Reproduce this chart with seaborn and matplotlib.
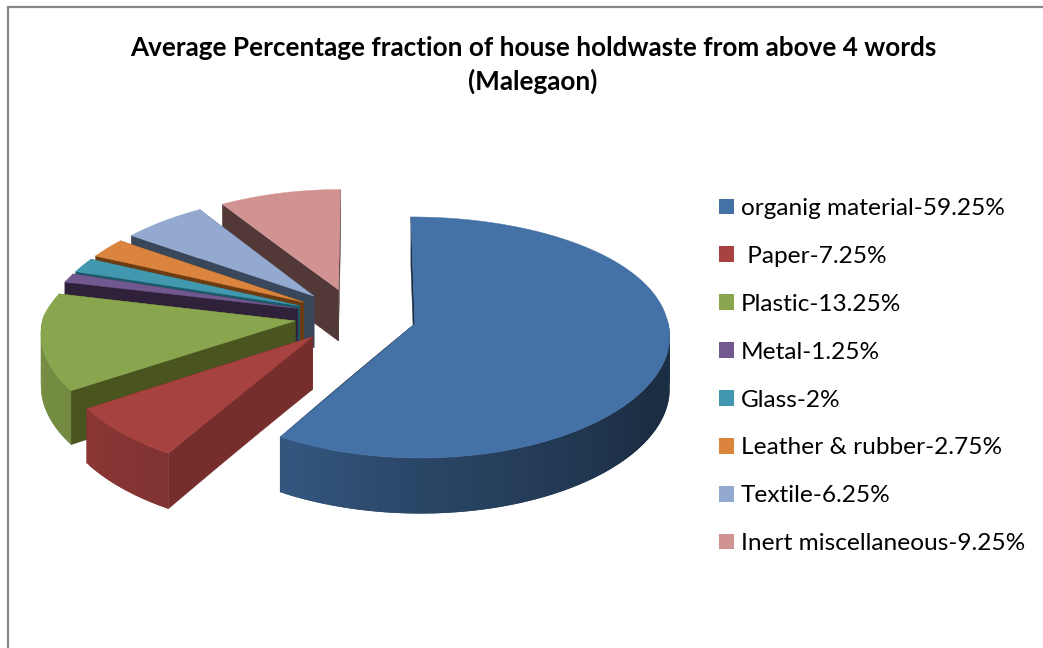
import numpy as np
import matplotlib
matplotlib.use('Agg')
import matplotlib.pyplot as plt
from matplotlib.patches import Patch
import seaborn as sns

labels = ['organig material-59.25%', ' Paper-7.25%', 'Plastic-13.25%', 'Metal-1.25%',
          'Glass-2%', 'Leather & rubber-2.75%', 'Textile-6.25%', 'Inert miscellaneous-9.25%']
values = [59.25, 7.25, 13.25, 1.25, 2, 2.75, 6.25, 9.25]
top_colors = ['#4471a6', '#a64240', '#89a54e', '#71588f', '#4198af', '#db843d', '#93a9cf', '#d19392']
wall_colors = ['#1a2e46', '#762e2c', '#49541f', '#2e2139', '#1c5a69', '#6b3c12', '#3a475a', '#533838']
explode = [0.245, 0.24, 0.24, 0.24, 0.24, 0.24, 0.24, 0.24]

sns.set_theme(style='white')
plt.rcParams['font.family'] = ['Lato', 'DejaVu Sans']

# where the flat pie lands on the page (pixels)
cx, cy = 355, 316
rx, ry = 252, 117.2
k_far_left, k_far_right, k_near, k_y = 0.15, 0.07, 0.085, 0.1137
depth = 52


def project(x, y, drop=0.0):
    k = np.where(y > 0, np.where(x < 0, k_far_left, k_far_right), k_near)
    px = cx + rx * x / (1 + k * y)
    py = cy - ry * y / (1 + k_y * y) + drop * depth / (1 + 0.06 * y)
    return px, py


def shade(angle):
    a = (angle + 180) % 360 - 180
    if a > 90:
        a -= 360
    return np.interp(a, [-190, -147, -121, -90, -30, 10], [0.88, 0.84, 0.77, 0.62, 0.40, 0.40])


def draw_wall(x0, y0, xe, ye, color):
    line = np.linspace(0, 1, 12)
    lx, ly = x0 + (xe - x0) * line, y0 + (ye - y0) * line
    up = project(lx, ly)
    down = project(lx, ly, 1)
    ax.fill(np.r_[up[0], down[0][::-1]], np.r_[up[1], down[1][::-1]], color=color, lw=0.3)


fig = plt.figure(figsize=(10.43, 6.48), dpi=100)
ax = fig.add_axes([0, 0, 1, 1])

palette = sns.color_palette(top_colors)
walls = sns.color_palette(wall_colors)

wedges, _ = ax.pie(values, explode=explode, startangle=90, counterclock=False, colors=palette)
slices = [(w.center, w.theta1, w.theta2) for w in wedges]
for w in wedges:
    w.remove()

ax.set_aspect('auto')
ax.set_xlim(0, 1043)
ax.set_ylim(648, 0)
ax.axis('off')

# back to front
for i in range(len(values) - 1, -1, -1):
    (x0, y0), t1, t2 = slices[i]
    ts = np.linspace(t1, t2, max(int(t2 - t1), 2) + 1)
    xs = x0 + np.cos(np.radians(ts))
    ys = y0 + np.sin(np.radians(ts))

    # wall at the far end of the slice, mostly hidden
    draw_wall(x0, y0, xs[0], ys[0], walls[i])

    # rim, only the side turned to the viewer; strips overlap to hide seams
    for j in range(len(ts) - 1):
        mid = np.radians((ts[j] + ts[j + 1]) / 2)
        if np.sin(mid) > 0.02:
            continue
        sx, sy = xs[j:j + 3], ys[j:j + 3]
        up = project(sx, sy)
        down = project(sx, sy, 1)
        c = np.array(palette[i]) * shade((ts[j] + ts[j + 1]) / 2)
        ax.fill(np.r_[up[0], down[0][::-1]], np.r_[up[1], down[1][::-1]],
                facecolor=tuple(c), edgecolor='none', lw=0)

    # wall that faces the viewer
    draw_wall(x0, y0, xs[-1], ys[-1], walls[i])

    # top face
    fx, fy = project(np.r_[x0, xs], np.r_[y0, ys])
    ax.fill(fx, fy, color=palette[i], lw=0.3)

# chart border, only left and top show in the crop
ax.plot([7.5, 7.5, 1043], [648, 7, 7], color='#868686', lw=1.6, solid_joinstyle='miter')

ax.text(533, 65, 'Average Percentage fraction of house holdwaste from above 4 words\n(Malegaon)',
        ha='center', va='center', fontsize=18.85, fontweight='bold', color='black', linespacing=1.38)

handles = [Patch(facecolor=c, edgecolor='none', label=l) for c, l in zip(palette, labels)]
ax.legend(handles=handles, loc='upper left', bbox_to_anchor=(719 / 1043, 1 - 198 / 648),
          frameon=False, fontsize=17.6, handlelength=0.615, handleheight=0.615,
          handletextpad=0.27, labelspacing=1.1, borderpad=0, borderaxespad=0, labelcolor='black')

plt.savefig('out.png', dpi=100)
